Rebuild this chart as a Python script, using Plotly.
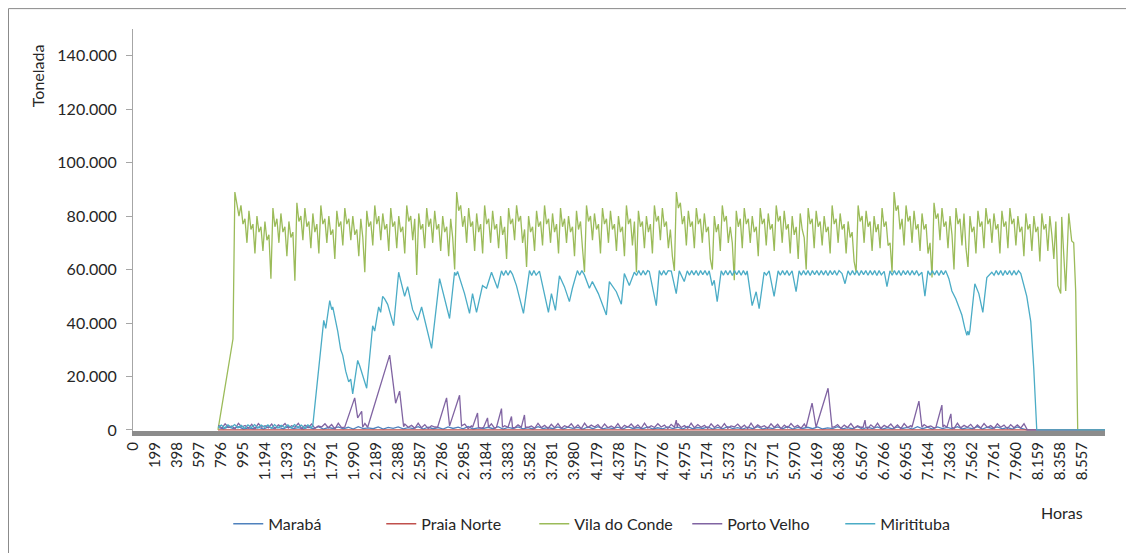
import plotly.graph_objects as go

# ---------------- data (hours, tonnes) ----------------
x_tick_hours = list(range(0, 8558, 199))
y_tick_values = [0, 20000, 40000, 60000, 80000, 100000, 120000, 140000]

# Marabá: regular hourly samples (start, step) + tail
maraba_start = 770
maraba_step = 45
maraba_vals = [
    900, 400, 1100, 500, 1200, 350, 800, 450, 1000, 300, 1150, 600, 950, 400, 1250, 500, 850, 350,
    1050, 450, 1200, 300, 900, 550, 1100, 400, 1000, 350, 1250, 500, 800, 450, 1150, 300, 950, 600,
    1100, 400, 850, 500, 1200, 350, 1000, 450, 900, 300, 1150, 550, 1050, 400, 1250, 350, 800, 500,
    1000, 450, 1200, 300, 950, 550, 1100, 400, 850, 350, 1250, 500, 900, 450, 1150, 300, 1050, 600,
    950, 350, 1150, 450, 1250, 400, 850, 500, 1050, 300, 1200, 550, 900, 450, 1100, 350, 800, 400,
    1150, 500, 1000, 300, 1250, 450, 900, 550, 1100, 350, 950, 400, 1200, 500, 850, 300, 1050, 450,
    1200, 350, 900, 500, 1100, 400, 1250, 300, 950, 550, 1000, 450, 1150, 350, 800, 500, 1200, 400,
    850, 450, 1250, 350, 1000, 500, 1150, 300, 900, 400, 1100, 550, 950, 350, 1200, 450, 1050, 300,
    1100, 500, 950, 400, 1200, 350, 850, 450, 1250, 300, 1000, 550, 1150, 400, 900, 350, 1100, 500,
]
maraba_tail_hours = [8055, 8760]
maraba_tail_vals = [0, 0]

# Praia Norte
praia_norte_hours = [766, 8760]
praia_norte_vals = [0, 0]

# Vila do Conde
vila_head_hours = [766, 901, 918]
vila_head_vals = [0, 34000, 89000]
vila_start = 955
vila_step = 18
vila_vals = [
    80000, 84000, 77000, 79000, 70000, 82000, 75000, 77000, 66000, 80000, 74000, 76000, 67000, 78000, 71000, 73000, 56600, 83000, 76000, 79000,
    70000, 81000, 74000, 76000, 65000, 78000, 72000, 74000, 55800, 85000, 78000, 80000, 71000, 83000, 76000, 78000, 68000, 81000, 74000, 77000,
    66000, 84000, 77000, 79000, 70000, 80000, 73000, 75000, 64000, 82000, 76000, 78000, 69000, 83000, 77000, 79000, 71000, 80000, 73000, 75000,
    65000, 79000, 72000, 59000, 82000, 76000, 78000, 69000, 84000, 77000, 80000, 71000, 81000, 75000, 77000, 67000, 83000, 76000, 78000, 68000,
    80000, 74000, 76000, 66000, 84000, 78000, 80000, 71000, 79000, 58000, 81000, 75000, 77000, 68000, 83000, 76000, 79000, 70000, 82000, 75000,
    77000, 67000, 80000, 74000, 76000, 65000, 79000, 72000, 60000, 89000, 82000, 84000, 76000, 80000, 70000, 83000, 76000, 78000, 67000, 81000,
    74000, 77000, 66000, 84000, 77000, 79000, 70000, 82000, 75000, 77000, 68000, 80000, 73000, 76000, 64000, 83000, 77000, 79000, 71000, 84000,
    78000, 80000, 70000, 75000, 61000, 80000, 74000, 76000, 67000, 82000, 76000, 78000, 69000, 84000, 77000, 79000, 70000, 81000, 74000, 77000,
    66000, 83000, 76000, 79000, 70000, 80000, 74000, 76000, 65000, 82000, 75000, 78000, 68000, 59000, 84000, 78000, 80000, 71000, 81000, 75000,
    77000, 66000, 83000, 77000, 79000, 70000, 82000, 75000, 77000, 67000, 80000, 74000, 76000, 65000, 84000, 77000, 79000, 69000, 78000, 59000,
    82000, 76000, 78000, 68000, 80000, 74000, 77000, 66000, 84000, 78000, 80000, 71000, 83000, 76000, 78000, 68000, 75000, 65000, 59500, 89000,
    83000, 85000, 77000, 80000, 69000, 82000, 76000, 78000, 68000, 83000, 77000, 79000, 70000, 81000, 74000, 76000, 64000, 60000, 80000, 74000,
    77000, 67000, 84000, 78000, 80000, 70000, 76000, 70000, 56000, 82000, 76000, 79000, 68000, 83000, 77000, 79000, 70000, 80000, 74000, 76000,
    65000, 83000, 77000, 79000, 69000, 81000, 75000, 77000, 67000, 84000, 78000, 80000, 70000, 82000, 75000, 77000, 66000, 80000, 73000, 76000,
    64000, 81000, 75000, 72000, 60000, 83000, 77000, 79000, 68000, 82000, 76000, 78000, 69000, 80000, 74000, 76000, 66000, 84000, 77000, 79000,
    70000, 81000, 75000, 77000, 66000, 78000, 72000, 74000, 63000, 59000, 84000, 78000, 80000, 70000, 82000, 76000, 78000, 67000, 80000, 74000,
    77000, 68000, 83000, 76000, 78000, 69000, 70000, 59000, 89000, 82000, 84000, 75000, 79000, 69000, 84000, 78000, 80000, 70000, 82000, 75000,
    77000, 67000, 81000, 75000, 77000, 66000, 70000, 57000, 85000, 79000, 81000, 71000, 83000, 76000, 78000, 68000, 80000, 73000, 60000, 83000,
    77000, 79000, 69000, 81000, 68000, 61000, 80000, 74000, 76000, 66000, 82000, 76000, 78000, 68000, 83000, 77000, 79000, 70000, 81000, 75000,
    77000, 66000, 82000, 76000, 78000, 68000, 83000, 77000, 79000, 69000, 80000, 74000, 76000, 65000, 81000, 75000, 77000, 67000, 80000, 74000,
    76000, 63000, 81000, 75000, 77000, 67000, 80000, 73000, 64000, 78000, 54000,
]
vila_tail_hours = [8361, 8370, 8406, 8433, 8460, 8478, 8496, 8514, 8760]
vila_tail_vals = [51000, 79700, 52000, 81000, 70700, 70000, 51700, 0, 0]

# Porto Velho: base noise (start, step) + spikes + tail
pv_start = 770
pv_step = 30
pv_base_vals = [
    1800, 600, 2300, 900, 1500, 400, 2500, 1100, 1700, 700, 2100, 500, 2400, 1000, 1600, 800, 2200, 500, 1900, 1200,
    2400, 700, 1600, 1000, 2500, 500, 1800, 900, 2200, 600, 1500, 1100, 2300, 800, 2000, 400, 2500, 900, 1700, 600,
    2100, 1000, 1600, 500, 2400, 800, 1900, 600, 2300, 1100, 1500, 700, 2500, 900, 1800, 500, 2200, 1000, 1700, 600,
    2500, 800, 2000, 500, 1600, 1100, 2300, 700, 1900, 900, 2400, 600, 1700, 1000, 2200, 500, 1500, 800, 2500, 700,
    1800, 900, 2300, 600, 2000, 1100, 1600, 500, 2400, 800, 1900, 700, 2200, 1000, 1500, 600, 2500, 900, 1700, 500,
    2100, 800, 2400, 600, 1600, 1000, 2300, 700, 1900, 500, 2500, 900, 1800, 1100, 2000, 600, 2200, 800, 1500, 700,
    2400, 500, 1700, 1000, 2200, 800, 1900, 600, 2500, 700, 1600, 900, 2300, 1100, 1800, 500, 2100, 700, 2400, 900,
    1600, 600, 2500, 800, 2000, 1000, 1700, 500, 2300, 900, 1900, 700, 2400, 600, 1500, 1100, 2200, 800, 1800, 500,
    2500, 700, 1900, 1000, 1600, 600, 2300, 900, 2100, 500, 1800, 800, 2400, 1000, 1700, 600, 2200, 900, 1500, 700,
    2300, 800, 1700, 500, 2500, 1100, 2000, 600, 1800, 900, 2400, 700, 1600, 1000, 2200, 500, 1900, 800, 2500, 600,
    1700, 1000, 2200, 700, 1900, 500, 2400, 900, 1600, 600, 2300, 800, 2000, 1100, 1500, 700, 2500, 500, 1800, 900,
    2200, 600, 2500, 800, 1700, 1000, 2100, 500, 1900, 700, 2400, 900, 1600, 600, 2300, 1000, 1800, 500, 2000, 800,
    1900, 700, 2300,
]
pv_spikes = [
    [(1908, 1000), (1998, 12000), (2025, 4500), (2061, 7000), (2070, 1000)],
    [(2115, 1000), (2313, 28000), (2367, 10000), (2403, 14500), (2439, 1200)],
    [(2745, 1000), (2826, 12000), (2853, 1500), (2943, 13000), (2961, 1500)],
    [(3060, 1000), (3105, 6300), (3114, 1000)],
    [(3160, 1000), (3195, 4500), (3204, 1000)],
    [(3276, 1000), (3321, 8000), (3330, 1000)],
    [(3380, 1000), (3411, 5000), (3420, 1000)],
    [(3500, 1000), (3528, 5600), (3537, 1000)],
    [(4880, 1000), (4896, 3700), (4905, 1000)],
    [(6066, 1000), (6120, 10000), (6156, 1000), (6264, 15600), (6300, 1000)],
    [(6580, 1000), (6597, 3700), (6606, 1000)],
    [(7020, 1000), (7083, 10800), (7110, 1000)],
    [(7236, 1000), (7290, 9300), (7299, 1000)],
    [(7335, 1000), (7371, 6000), (7380, 1000)],
]
pv_tail = [(8060, 0), (8760, 0)]

# Miritituba
miritituba = [
    (766, 900), (796, 1800), (826, 700), (856, 1900), (886, 1000), (916, 2000), (946, 800), (976, 1700),
    (1006, 600), (1036, 1900), (1066, 900), (1096, 2000), (1126, 700), (1156, 1800), (1186, 1000),
    (1216, 1900), (1246, 600), (1276, 2000), (1306, 800), (1336, 1700), (1366, 900), (1396, 1900),
    (1426, 700), (1456, 2000), (1486, 1000), (1516, 1800), (1546, 700), (1576, 1900), (1606, 900),
    (1620, 1500), (1719, 41000), (1737, 38000), (1773, 48400), (1791, 45000), (1800, 46000),
    (1845, 37000), (1872, 30000), (1890, 28000), (1917, 22000), (1944, 18000), (1962, 19000),
    (1980, 13500), (2025, 26000), (2043, 24000), (2106, 15600), (2160, 39000), (2178, 37000),
    (2214, 46000), (2232, 44000), (2250, 50000), (2268, 49000), (2295, 47000), (2349, 39000),
    (2394, 59000), (2448, 50000), (2475, 53600), (2520, 45000), (2565, 41000), (2601, 46000),
    (2691, 30500), (2763, 56600), (2853, 41700), (2898, 59000), (2910, 57800), (2925, 59300),
    (2988, 51000), (3033, 43600), (3060, 51000), (3096, 44000), (3150, 54000), (3186, 53000),
    (3231, 59000), (3285, 53000), (3321, 59500), (3340, 57800), (3360, 59600), (3380, 57900),
    (3400, 59600), (3420, 58200), (3456, 54000), (3519, 43600), (3573, 59600), (3593, 57800),
    (3613, 59600), (3633, 57900), (3663, 59400), (3744, 44000), (3771, 51000), (3807, 44700),
    (3843, 57700), (3888, 53600), (3933, 48000), (3960, 53000), (4005, 59600), (4025, 57900),
    (4045, 59600), (4068, 58000), (4113, 53000), (4140, 55500), (4194, 51000), (4266, 43000),
    (4293, 55500), (4356, 51700), (4401, 47000), (4428, 58500), (4473, 54000), (4518, 59000),
    (4538, 57800), (4558, 59600), (4578, 57900), (4598, 59600), (4618, 58000), (4638, 59600),
    (4653, 59300), (4716, 46500), (4743, 59600), (4763, 57900), (4783, 59600), (4803, 58000),
    (4823, 59600), (4851, 59400), (4896, 51000), (4923, 59500), (4968, 55500), (4995, 59500),
    (5015, 57900), (5035, 59600), (5055, 58000), (5075, 59600), (5095, 57800), (5115, 59600),
    (5135, 58100), (5155, 59600), (5175, 57900), (5193, 59500), (5220, 54000), (5238, 56000),
    (5265, 48000), (5301, 59500), (5321, 57900), (5341, 59600), (5361, 58000), (5381, 59600),
    (5401, 57800), (5421, 59600), (5441, 58100), (5461, 59600), (5481, 57900), (5501, 59600),
    (5521, 58000), (5535, 59500), (5580, 46500), (5616, 51700), (5643, 45400), (5688, 59000),
    (5708, 57900), (5733, 59500), (5778, 50000), (5814, 59500), (5834, 57900), (5854, 59600),
    (5874, 58000), (5894, 59600), (5914, 57800), (5940, 59500), (5976, 51700), (6003, 59500),
    (6023, 57900), (6043, 59600), (6063, 58000), (6083, 59600), (6103, 57800), (6123, 59600),
    (6143, 58100), (6163, 59600), (6183, 57900), (6203, 59600), (6223, 58000), (6243, 59600),
    (6263, 57800), (6283, 59600), (6303, 58100), (6323, 59600), (6343, 57900), (6363, 59600),
    (6390, 58500), (6417, 54700), (6444, 59500), (6464, 57900), (6484, 59600), (6504, 58000),
    (6524, 59600), (6544, 57800), (6564, 59600), (6584, 58100), (6604, 59600), (6624, 57900),
    (6644, 59600), (6664, 58000), (6684, 59600), (6704, 57800), (6724, 59600), (6744, 58000),
    (6770, 59300), (6795, 53600), (6822, 59500), (6842, 57900), (6862, 59600), (6882, 58000),
    (6902, 59600), (6922, 57800), (6942, 59600), (6962, 58100), (6982, 59600), (7002, 57900),
    (7022, 59600), (7042, 58000), (7062, 59600), (7082, 57800), (7110, 59000), (7137, 50000),
    (7164, 59500), (7184, 57900), (7204, 59600), (7224, 58000), (7244, 59600), (7264, 57800),
    (7284, 59600), (7304, 58100), (7324, 59600), (7340, 58000), (7353, 56600), (7380, 52000),
    (7416, 49000), (7443, 46000), (7470, 43000), (7497, 38000), (7515, 35400), (7524, 37000),
    (7533, 35500), (7542, 37000), (7587, 54700), (7623, 51000), (7659, 44000), (7695, 57000),
    (7740, 59000), (7760, 57900), (7780, 59600), (7800, 58000), (7820, 59600), (7840, 57800),
    (7860, 59600), (7880, 58100), (7900, 59600), (7920, 57900), (7940, 59600), (7960, 58000),
    (7980, 59600), (8001, 58500), (8055, 50000), (8091, 40500), (8118, 23000), (8145, 0),
    (8760, 0),
]

# ---------------- build series ----------------
maraba_h = [maraba_start + maraba_step * i for i in range(len(maraba_vals))] + maraba_tail_hours
maraba_v = maraba_vals + maraba_tail_vals

vila_h = vila_head_hours + [vila_start + vila_step * i for i in range(len(vila_vals))] + vila_tail_hours
vila_v = vila_head_vals + vila_vals + vila_tail_vals

pv_base = [(pv_start + pv_step * i, v) for i, v in enumerate(pv_base_vals)]
windows = [(g[0][0], g[-1][0]) for g in pv_spikes]
pv_pts = [p for p in pv_base if not any(a <= p[0] <= b for a, b in windows)]
for g in pv_spikes:
    pv_pts += g
pv_pts += pv_tail
pv_pts.sort()
pv_h = [p[0] for p in pv_pts]
pv_v = [p[1] for p in pv_pts]

mir_h = [p[0] for p in miritituba]
mir_v = [p[1] for p in miritituba]

series = [
    ("Marabá", maraba_h, maraba_v, "#4F81BD"),
    ("Praia Norte", praia_norte_hours, praia_norte_vals, "#C0504D"),
    ("Vila do Conde", vila_h, vila_v, "#9BBB59"),
    ("Porto Velho", pv_h, pv_v, "#8064A2"),
    ("Miritituba", mir_h, mir_v, "#4BACC6"),
]

fig = go.Figure()
for name, h, v, c in series:
    fig.add_trace(go.Scatter(x=h, y=v, mode="lines", name=name,
                             line=dict(color=c, width=1.3, simplify=False)))

FONT = "Lato, 'Open Sans', sans-serif"
fig.update_layout(
    width=1126, height=545,
    margin=dict(l=125, r=29, t=21, b=120),
    paper_bgcolor="white", plot_bgcolor="white",
    separators=",.",
    font=dict(family=FONT, size=16, color="#262626"),
    showlegend=True,
    legend=dict(orientation="h", x=0.098, xanchor="left", y=-0.231, yanchor="middle",
                entrywidth=108, entrywidthmode="pixels", font=dict(size=16),
                bgcolor="rgba(0,0,0,0)"),
    xaxis=dict(range=[0, 8760], tickmode="array", tickvals=x_tick_hours, tickformat=",d",
               tickangle=-90, tickfont=dict(size=15), showline=True, linecolor="#8C8C8C",
               linewidth=5, ticks="", showgrid=False, zeroline=False),
    yaxis=dict(range=[-400, 150000], tickmode="array", tickvals=y_tick_values,
               tickformat=",d", showline=True, linecolor="#A6A6A6", linewidth=1,
               ticks="outside", ticklen=6, tickcolor="#A6A6A6", showgrid=False,
               zeroline=False, ticklabelstandoff=6),
    annotations=[
        dict(text="Tonelada", xref="paper", yref="paper", x=-0.0982, y=0.884,
             xanchor="center", yanchor="middle",
             textangle=-90, showarrow=False, font=dict(size=16)),
        dict(text="Horas", xref="paper", yref="paper", x=0.956, y=-0.203,
             xanchor="center", yanchor="middle",
             showarrow=False, font=dict(size=16)),
    ],
    shapes=[
        dict(type="rect", xref="paper", yref="paper", x0=-0.1281, x1=1.0247,
             y0=-0.32, y1=1.0507, line=dict(color="#8A8A8A", width=1)),
    ],
)

fig.write_html("out.html")
